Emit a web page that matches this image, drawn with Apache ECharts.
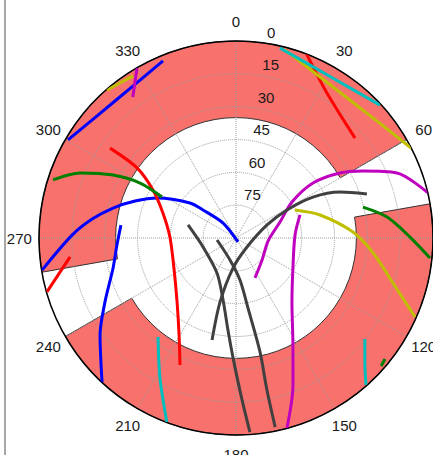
<!DOCTYPE html>
<html>
<head>
<meta charset="utf-8">
<script src="https://cdn.jsdelivr.net/npm/echarts@6/dist/echarts.min.js"></script>
<style>
html,body{margin:0;padding:0;background:#fff;}
#chart{width:433px;height:455px;}
</style>
</head>
<body>
<div id="chart"></div>
<script>
// ---- tick labels ----
const angleTicks = [0, 30, 60, 90, 120, 150, 180, 210, 240, 270, 300, 330];
const elevTicks = [0, 15, 30, 45, 60, 75];

// ---- obstruction mask: azimuth start, azimuth end, elevation top ----
const maskStartAz = [80, 260];
const maskEndAz = [240, 420];
const maskTopEl = [35, 35];

// ---- satellite tracks: [elevation, azimuth] ----
const blue1 = [[2.5, 337.6], [6.5, 318.8], [1.1, 300.3]];
const blue2 = [[0.2, 260.6], [15.1, 271.0], [23.7, 277.5], [32.2, 283.7], [40.9, 290.1], [49.6, 296.9], [63.6, 307.3], [70.2, 310.3], [81, 319.1], [88, 153]];
const blue3 = [[37.1, 276.4], [35.5, 266.6], [32.2, 256.3], [23.4, 244.0], [13.7, 234.5], [0.1, 222.9]];
const red1 = [[0, 21.0], [11.8, 32.1], [19.0, 50.0]];
const red2 = [[19.3, 305.5], [34.6, 305.3], [46.2, 300.0], [54.7, 288.9], [59.8, 270.9], [58.5, 244.2], [50.3, 222.7], [38.6, 210.4], [26.6, 203.8]];
const red3 = [[0.2, 254.1], [13.7, 263.5]];
const green1 = [[2.3, 287.6], [12.8, 292.6], [26.9, 297.1], [39.5, 299.8], [51.3, 299.0]];
const green2 = [[30.3, 76.3], [20.3, 82.1], [10.5, 89.7], [0.9, 95.9]];
const green3 = [[1.6, 131.4], [2.3, 129.1]];
const cyan1 = [[0.9, 13.0], [4.6, 30.2], [0.5, 47.3]];
const cyan2 = [[32.4, 218.2], [17.2, 208.5], [0.2, 200.6]];
const cyan3 = [[15.2, 128.1], [8.3, 133.9], [0.4, 138.5]];
const yellow1 = [[0.3, 318.9], [2.3, 327.6]];
const yellow2 = [[1.2, 14.6], [6.7, 26.3], [8.3, 39.0], [5.9, 51.6], [0, 62.9]];
const yellow3 = [[60.2, 64.6], [50.2, 74.7], [36.5, 87.1], [27.0, 96.2], [15.4, 106.0], [0.6, 113.8]];
const magenta1 = [[0.1, 329.8], [10.2, 323.8]];
const magenta2 = [[0, 76.7], [10.7, 68.0], [24.4, 62.2], [34.0, 58.0], [46.8, 54.5], [59.6, 57.3], [68.6, 70.0], [75.3, 95.4], [74.4, 130.2], [69.8, 154.6]];
const magenta3 = [[58.9, 70.2], [63.0, 87.1], [60.6, 117.8], [51.2, 138.8], [34.6, 152.0], [18.0, 158.8], [0.1, 165.0]];
const gray1 = [[26.9, 71.4], [38.1, 66.1], [50.2, 62.0], [63.4, 61.2], [74.6, 67.2], [83.5, 129.3], [76.2, 185.7], [59.8, 194.0], [42.1, 193.2]];
const gray2 = [[67.3, 285.2], [74.4, 254.7], [71.8, 208.5], [61.1, 191.8], [47.8, 185.0], [35.2, 181.4], [18.2, 178.2], [1.1, 175.9]];
const gray3 = [[81.3, 264], [79.6, 195.3], [70.7, 174.6], [57.6, 170.3], [36.8, 168.1], [19.1, 168.5], [1.8, 168.3]];

// ---- styles ----
const C = {b: '#0000ff', r: '#ff0000', g: '#008000', c: '#00bfbf', y: '#bfbf00', m: '#bf00bf', k: '#404040'};
const tracks = [
  [blue1, C.b], [blue2, C.b], [blue3, C.b],
  [red1, C.r], [red2, C.r], [red3, C.r],
  [green1, C.g], [green2, C.g], [green3, C.g],
  [yellow1, C.y], [yellow2, C.y], [yellow3, C.y],
  [cyan1, C.c], [cyan2, C.c], [cyan3, C.c],
  [magenta1, C.m], [magenta2, C.m], [magenta3, C.m],
  [gray1, C.k], [gray2, C.k], [gray3, C.k]
];
const LABEL_FONT = '15px "Liberation Sans", Arial, Helvetica, sans-serif';
const ANGLE_LABEL_EL = -9;   // label ring just outside the plot
const RADIAL_LABEL_AZ = 8;   // direction of elevation labels

const chart = echarts.init(document.getElementById('chart'), null, {renderer: 'svg'});

const maskData = maskStartAz.map((a, i) => [a, maskEndAz[i], maskTopEl[i]]);

function renderMask(params, api) {
  const a0 = api.value(0), a1 = api.value(1), el = api.value(2);
  const c = api.coord([90, 0]);
  const pOut = api.coord([0, a0]);
  const pIn = api.coord([el, a0]);
  const pEnd = api.coord([0, a1]);
  const r = Math.hypot(pOut[0] - c[0], pOut[1] - c[1]);
  const r0 = Math.hypot(pIn[0] - c[0], pIn[1] - c[1]);
  const s = Math.atan2(pOut[1] - c[1], pOut[0] - c[0]);
  let e = Math.atan2(pEnd[1] - c[1], pEnd[0] - c[0]);
  while (e <= s) e += 2 * Math.PI;
  return {
    type: 'sector',
    shape: {cx: c[0], cy: c[1], r0: r0, r: r, startAngle: s, endAngle: e, clockwise: true},
    style: {fill: '#f8716c', stroke: '#333', lineWidth: 1}
  };
}

const series = [{
  type: 'custom', coordinateSystem: 'polar', z: 1, silent: true,
  data: maskData, renderItem: renderMask
}];

tracks.forEach(([d, col]) => {
  series.push({
    type: 'line', coordinateSystem: 'polar', z: 3, silent: true,
    data: d, showSymbol: false, symbol: 'none', smooth: 0.3, clip: false,
    lineStyle: {color: col, width: 3}
  });
});

series.push({
  type: 'custom', coordinateSystem: 'polar', z: 5, silent: true,
  data: elevTicks.map(v => [v, RADIAL_LABEL_AZ]),
  renderItem: (p, api) => {
    const pt = api.coord([api.value(0), api.value(1)]);
    return {type: 'text', x: pt[0] + 3.5, y: pt[1] - 10.7,
      style: {text: String(api.value(0)), fill: '#1a1a1a', font: LABEL_FONT, align: 'left', verticalAlign: 'middle'}};
  }
});

series.push({
  type: 'custom', coordinateSystem: 'polar', z: 5, silent: true,
  data: angleTicks.map(a => [ANGLE_LABEL_EL, a]),
  renderItem: (p, api) => {
    const pt = api.coord([api.value(0), api.value(1)]);
    return {type: 'text', x: pt[0], y: pt[1],
      style: {text: String(api.value(1)), fill: '#1a1a1a', font: LABEL_FONT, align: 'center', verticalAlign: 'middle'}};
  }
});

chart.setOption({
  backgroundColor: '#ffffff',
  animation: false,
  polar: {center: [236, 238], radius: 197},
  angleAxis: {
    type: 'value', min: 0, max: 360, interval: 30, startAngle: 90, clockwise: true, z: 2,
    axisLine: {show: true, lineStyle: {color: '#000', width: 1.5}},
    axisTick: {show: false}, axisLabel: {show: false},
    splitLine: {show: true, lineStyle: {color: '#9a9a9a', type: 'dotted', width: 1}}
  },
  radiusAxis: {
    type: 'value', min: 0, max: 90, interval: 15, inverse: true, z: 2,
    axisLine: {show: false}, axisTick: {show: false}, axisLabel: {show: false},
    splitLine: {show: true, lineStyle: {color: '#9a9a9a', type: 'dotted', width: 1}}
  },
  graphic: [{type: 'line', shape: {x1: 5, y1: 0, x2: 5, y2: 455}, style: {stroke: '#a8a8a8', lineWidth: 2}, silent: true}],
  series: series
});
</script>
</body>
</html>
